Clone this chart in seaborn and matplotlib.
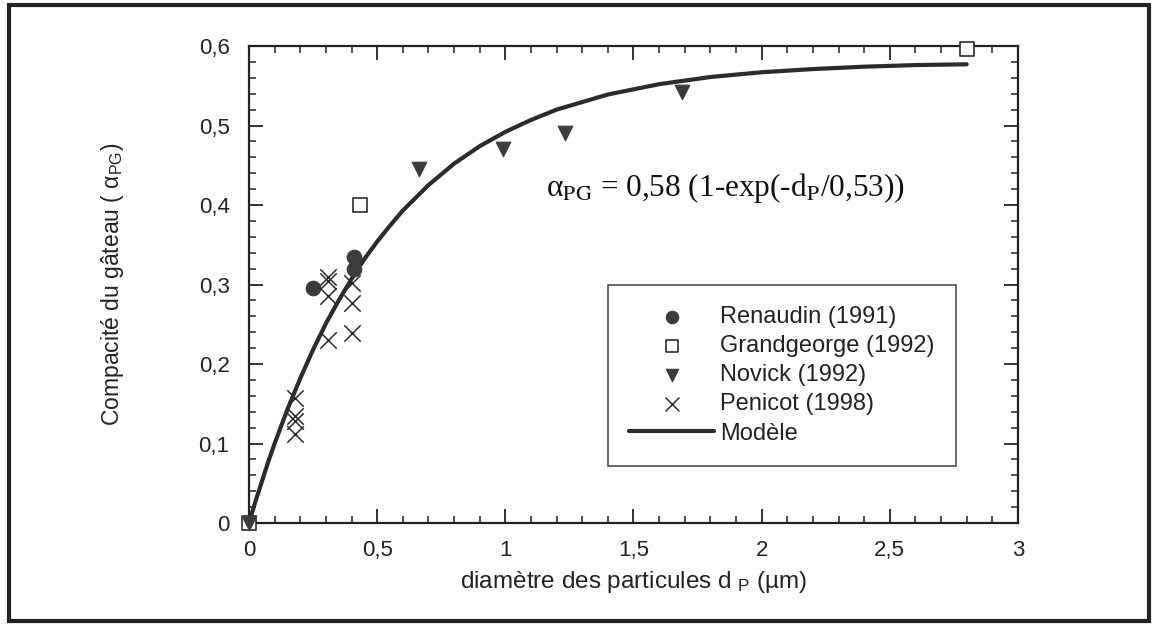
import numpy as np
import pandas as pd
import seaborn as sns
import matplotlib.pyplot as plt
from matplotlib.patches import Rectangle
from matplotlib.ticker import MultipleLocator, FuncFormatter

# data (d_P in µm, compacité alpha_PG)
renaudin_d = [0.25, 0.41, 0.41]
renaudin_a = [0.296, 0.335, 0.320]

grandgeorge_d = [0.0, 0.433, 2.80]
grandgeorge_a = [0.0, 0.400, 0.596]

novick_d = [0.0, 0.664, 0.992, 1.233, 1.688]
novick_a = [0.0, 0.445, 0.470, 0.490, 0.542]

penicot_d = [0.18, 0.18, 0.18, 0.18, 0.31, 0.31, 0.31, 0.31, 0.40, 0.40, 0.40]
penicot_a = [0.157, 0.135, 0.128, 0.112, 0.310, 0.305, 0.285, 0.230, 0.302, 0.277, 0.239]

# model curve, points
model_d = [0.0, 0.025, 0.05, 0.075, 0.1, 0.15, 0.2, 0.25, 0.3, 0.35, 0.4, 0.45, 0.5, 0.55,
           0.6, 0.7, 0.8, 0.9, 1.0, 1.1, 1.2, 1.4, 1.6, 1.8, 2.0, 2.2, 2.4, 2.6, 2.8]
model_a = [0.0, 0.027, 0.052, 0.077, 0.100, 0.143, 0.182, 0.218, 0.251, 0.280, 0.307,
           0.332, 0.354, 0.374, 0.393, 0.425, 0.452, 0.474, 0.492, 0.507, 0.520,
           0.539, 0.552, 0.561, 0.567, 0.571, 0.574, 0.576, 0.577]

sns.set_theme(style="ticks")
plt.rcParams['font.family'] = ['Liberation Sans', 'DejaVu Sans']
plt.rcParams['mathtext.fontset'] = 'custom'
plt.rcParams['mathtext.rm'] = 'Liberation Sans'
plt.rcParams['mathtext.it'] = 'Liberation Sans:italic'

fig = plt.figure(figsize=(11.56, 6.26), dpi=100)
ax = fig.add_axes([0.2154, 0.1645, 0.6652, 0.762])

dark = '#2b2b2b'
sns.lineplot(x=model_d, y=model_a, ax=ax, color=dark, lw=3, label='Modèle', sort=False)
sns.scatterplot(x=renaudin_d, y=renaudin_a, ax=ax, marker='o', s=110, color='#3c3c3c',
                edgecolor='#3c3c3c', label='Renaudin (1991)', zorder=3, clip_on=False)
sns.scatterplot(x=grandgeorge_d, y=grandgeorge_a, ax=ax, marker='s', s=110, facecolor='white',
                edgecolor=dark, linewidth=1.2, label='Grandgeorge (1992)', zorder=3, clip_on=False)
sns.scatterplot(x=novick_d, y=novick_a, ax=ax, marker='v', s=110, color='#3c3c3c',
                edgecolor='#3c3c3c', label='Novick (1992)', zorder=4, clip_on=False)
sns.scatterplot(x=penicot_d, y=penicot_a, ax=ax, marker='x', s=140, color=dark,
                linewidth=1.1, label='Penicot (1998)', zorder=3, clip_on=False)

ax.set_xlim(0, 3)
ax.set_ylim(0, 0.6)
ax.xaxis.set_major_locator(MultipleLocator(0.5))
ax.xaxis.set_minor_locator(MultipleLocator(0.1))
ax.yaxis.set_major_locator(MultipleLocator(0.1))
ax.yaxis.set_minor_locator(MultipleLocator(0.02))
comma = FuncFormatter(lambda v, p: ('%g' % round(v, 2)).replace('.', ','))
ax.xaxis.set_major_formatter(comma)
ax.yaxis.set_major_formatter(comma)
ax.tick_params(which='both', direction='in', top=True, right=True, colors='#222222',
               labelsize=16, labelcolor='#222222')
ax.tick_params(which='major', length=10, width=1.3)
ax.tick_params(which='minor', length=5, width=1.1)
ax.tick_params(axis='x', pad=12)
ax.tick_params(axis='y', pad=14)
for sp in ax.spines.values():
    sp.set_linewidth(1.6)
    sp.set_color('#222222')

ax.set_xlabel(r'diamètre des particules d $_{\rm P}$ (µm)', fontsize=17.5, color='#222222', labelpad=6)
ax.set_ylabel('Compacité du gâteau ( α$_{\\rm PG}$)', fontsize=16.5, color='#222222', labelpad=52)

ax.text(0.62, 0.702, 'α$_{\\rm PG}$ = 0,58 (1-exp(-d$_{\\rm P}$/0,53))', transform=ax.transAxes,
        ha='center', va='center', fontsize=22.5, family='Liberation Serif', color='#111111',
        math_fontfamily='stix')

h, l = ax.get_legend_handles_labels()
order = ['Renaudin (1991)', 'Grandgeorge (1992)', 'Novick (1992)', 'Penicot (1998)', 'Modèle']
hh = [h[l.index(k)] for k in order]
leg = ax.legend(hh, order, loc='upper left', bbox_to_anchor=(0.467, 0.499), fontsize=17,
                frameon=True, fancybox=False, edgecolor='#222222', handlelength=3.6,
                handletextpad=0.25, labelspacing=0.3, borderpad=0.9, borderaxespad=0,
                markerscale=0.85)
leg.get_frame().set_linewidth(1.2)
for t in leg.get_texts():
    t.set_color('#222222')

fig.patches.append(Rectangle((9 / 1156, 1 - 621 / 626), 1140 / 1156, 616 / 626,
                             transform=fig.transFigure, fill=False, lw=3, edgecolor='#222222'))

fig.savefig('out.png', dpi=100)
